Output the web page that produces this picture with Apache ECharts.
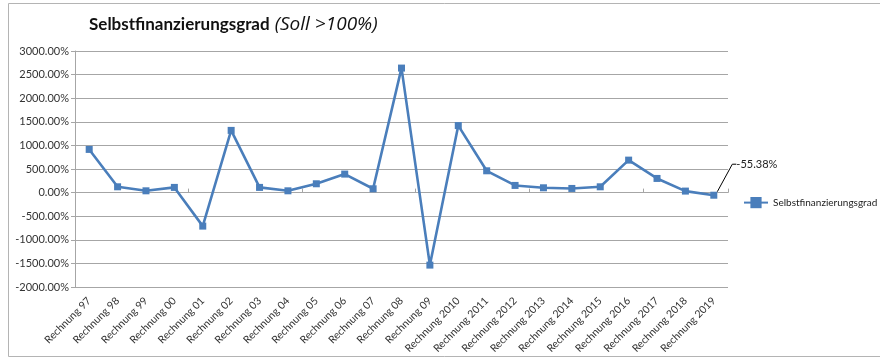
<!DOCTYPE html>
<html>
<head>
<meta charset="utf-8">
<script src="https://cdn.jsdelivr.net/npm/echarts@6/dist/echarts.min.js"></script>
<style>
  html, body { margin: 0; padding: 0; background: #ffffff; }
  #chart { width: 880px; height: 360px; }
</style>
</head>
<body>
<div id="chart"></div>
<script>
// Rechnungsjahre
const categories = [
  'Rechnung 97', 'Rechnung 98', 'Rechnung 99', 'Rechnung 00', 'Rechnung 01',
  'Rechnung 02', 'Rechnung 03', 'Rechnung 04', 'Rechnung 05', 'Rechnung 06',
  'Rechnung 07', 'Rechnung 08', 'Rechnung 09', 'Rechnung 2010', 'Rechnung 2011',
  'Rechnung 2012', 'Rechnung 2013', 'Rechnung 2014', 'Rechnung 2015', 'Rechnung 2016',
  'Rechnung 2017', 'Rechnung 2018', 'Rechnung 2019'
];

// Selbstfinanzierungsgrad in Prozent
const selbstfinanzierungsgrad = [
  915, 123, 38, 110, -710,
  1318, 110, 38, 187, 392,
  81, 2638, -1536, 1420, 462,
  152, 102, 88, 123, 688,
  300, 32, -55.38
];

// Wertachse
const yMin = -2000;
const yMax = 3000;
const yStep = 500;

const seriesName = 'Selbstfinanzierungsgrad';
const lineColor = '#4a7ebb';
const font = 'Lato, "Open Sans", sans-serif';

const lastIndex = selbstfinanzierungsgrad.length - 1;
const seriesData = selbstfinanzierungsgrad.map((v, i) => {
  if (i !== lastIndex) return v;
  return {
    value: v,
    label: {
      show: true,
      position: 'right',
      formatter: v.toFixed(2) + '%',
      color: '#222',
      fontSize: 11,
      fontFamily: font
    },
    labelLine: {
      show: true,
      length2: 4,
      lineStyle: { color: '#000', width: 1 }
    }
  };
});

const chart = echarts.init(document.getElementById('chart'), null, { renderer: 'canvas' });

chart.setOption({
  backgroundColor: '#ffffff',
  animation: false,
  title: {
    text: '{b|Selbstfinanzierungsgrad} {i|(Soll >100%)}',
    left: 84,
    top: 10,
    textStyle: {
      rich: {
        b: { fontSize: 17, fontWeight: 'bold', color: '#111', fontFamily: font },
        i: { fontSize: 19, fontWeight: 'normal', fontStyle: 'italic', color: '#111', fontFamily: '"Open Sans", Lato, sans-serif' }
      }
    }
  },
  graphic: [{
    type: 'rect',
    shape: { x: 8.5, y: 3.5, width: 900, height: 353 },
    style: { fill: null, stroke: '#b4b4b4', lineWidth: 1 },
    silent: true,
    z: -1
  }],
  legend: {
    orient: 'vertical',
    left: 738,
    top: 192,
    itemWidth: 24,
    itemHeight: 14,
    itemGap: 4,
    textStyle: { fontSize: 10, color: '#222', fontFamily: font },
    data: [seriesName]
  },
  grid: {
    left: 75,
    right: 152,
    top: 51,
    bottom: 73,
    containLabel: false
  },
  xAxis: [
    {
      type: 'category',
      data: categories,
      boundaryGap: true,
      axisLine: { onZero: true, lineStyle: { color: '#a6a6a6', width: 1 } },
      axisTick: { show: true, inside: true, length: 4, lineStyle: { color: '#a6a6a6' } },
      axisLabel: { show: false },
      splitLine: { show: false }
    },
    {
      type: 'category',
      data: categories,
      position: 'bottom',
      boundaryGap: true,
      axisLine: { show: false, onZero: false },
      axisTick: { show: false },
      axisLabel: {
        rotate: 45,
        interval: 0,
        margin: 12,
        fontSize: 10.5,
        color: '#333',
        fontFamily: font
      },
      splitLine: { show: false }
    }
  ],
  yAxis: {
    type: 'value',
    min: yMin,
    max: yMax,
    interval: yStep,
    axisLine: { show: true, lineStyle: { color: '#a6a6a6', width: 1 } },
    axisTick: { show: true, length: 4, lineStyle: { color: '#a6a6a6' } },
    axisLabel: {
      margin: 6,
      fontSize: 11,
      color: '#333',
      fontFamily: font,
      formatter: v => v.toFixed(2) + '%'
    },
    splitLine: { show: true, lineStyle: { color: '#a6a6a6', width: 1.2 } }
  },
  series: [{
    name: seriesName,
    type: 'line',
    xAxisIndex: 0,
    data: seriesData,
    symbol: 'rect',
    symbolSize: 7,
    itemStyle: { color: lineColor },
    lineStyle: { color: lineColor, width: 2.6 },
    labelLayout: { dx: 14, dy: -31 }
  }]
});
</script>
</body>
</html>
